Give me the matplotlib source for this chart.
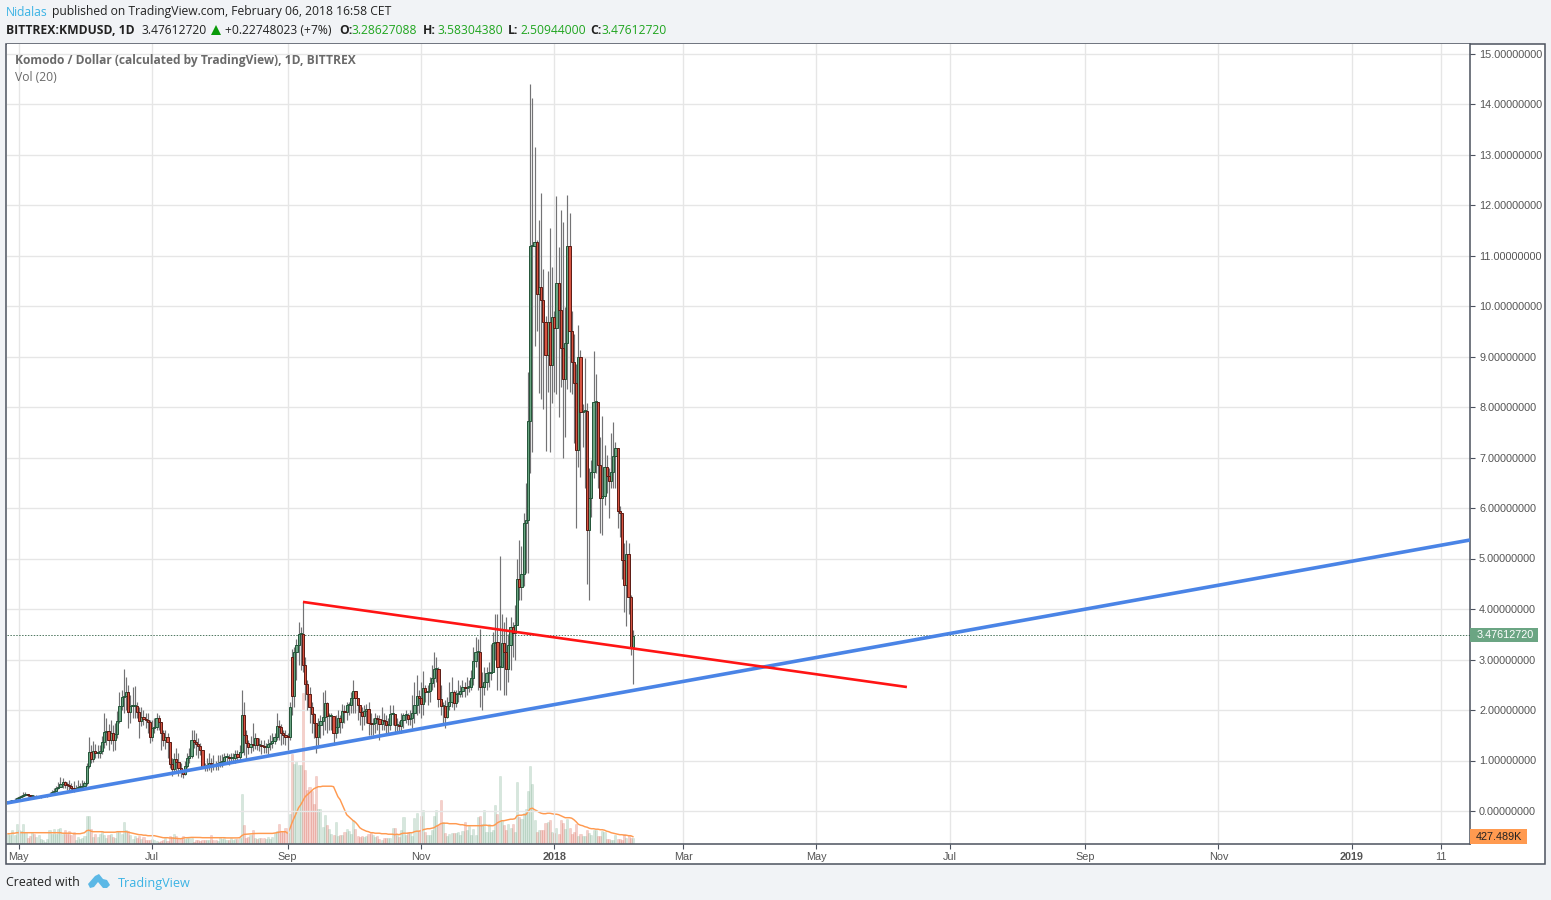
import numpy as np
import matplotlib
matplotlib.use("Agg")
import matplotlib.pyplot as plt
from matplotlib.patches import Rectangle, Polygon

W, H = 1551, 900
first_day = np.datetime64("2017-04-26")

# candles, one value a day from first_day on
closes = [
    .17, .19, .20, .22, .26, .27, .29, .31, .33, .31, .30, .30, .27, .28, .28, .29, .29, .29, .31, .33,
    .37, .40, .45, .47, .53, .57, .52, .51, .49, .45, .42, .46, .47, .47, .49, .55,
    .90, 1.17, 1.03, 1.18, 1.15, 1.15, 1.18, 1.37, 1.57, 1.58, 1.40, 1.54, 1.40, 1.52,
    1.79, 2.07, 2.25, 2.27, 2.36, 1.97, 2.07, 2.07, 2.07, 1.96, 1.78, 1.86, 1.83, 1.80, 1.76, 1.46, 1.64,
    1.67, 1.85, 1.77, 1.55, 1.41, 1.47, 1.36, .94, .83, 1.02, .98, .85, .81, .73, .89, 1.04, 1.09, 1.41,
    1.36, 1.33, 1.29, 1.21, .89, .88, .92, .96, .93, .92, .91, .96, .98, 1.00, 1.06, 1.07, 1.05, 1.05,
    1.05, 1.12, 1.06, 1.17, 1.90, 1.50, 1.34, 1.27, 1.32, 1.31, 1.45, 1.31, 1.31, 1.29, 1.26, 1.26, 1.32,
    1.34, 1.39, 1.47, 1.69, 1.66, 1.54, 1.50, 1.47, 1.46, 2.05,
    2.28, 3.15, 3.29, 3.50, 3.50, 2.89, 2.51, 2.31, 2.05, 1.93, 1.74, 1.46, 1.70, 1.79, 1.87, 2.14, 1.88,
    1.88, 1.88, 1.55, 1.67, 1.85, 1.77, 1.99, 1.97, 2.09, 2.09, 2.23, 2.38, 2.23, 2.10, 1.97, 1.88, 1.99,
    2.01, 1.75, 1.72, 1.75, 1.85, 1.83, 1.72, 1.80, 1.78, 1.70, 1.70, 1.92, 1.92, 1.70, 1.70, 1.68, 1.80,
    1.90, 1.91, 1.82, 1.85, 1.95, 2.10, 2.28, 2.24, 2.12, 2.43, 2.36, 2.38, 2.53, 2.63, 2.81, 2.81, 2.21,
    2.07, 2.07, 1.87, 2.07, 2.16, 2.36, 2.14, 2.31, 2.31, 2.38, 2.46, 2.43, 2.45, 2.46, 2.63, 2.97, 3.15,
    3.15, 2.46, 2.46, 2.56, 2.73, 2.74, 2.76, 3.32, 3.35, 2.85, 2.85, 3.32, 3.15, 2.81, 3.29, 3.64, 3.53,
    3.68, 4.59, 4.43, 4.70, 5.70, 5.76, 7.73, 11.19, 11.19, 11.27, 10.24, 10.38, 10.12, 9.69, 9.03, 9.69,
    8.83, 9.79, 9.56, 10.45, 9.93, 9.16, 8.55, 9.27, 11.19, 9.51, 8.90, 8.47, 7.15, 9.00, 7.91, 7.93, 7.93,
    5.57, 6.19, 6.72, 8.09, 8.10, 6.85, 6.19, 6.24, 6.82, 6.64, 6.54, 6.72, 7.02, 7.18, 5.95, 5.91, 4.97,
    4.48, 5.08, 4.23, 3.25, 3.47,
]
highs = [
    .19, .21, .22, .25, .28, .29, .31, .38, .38, .34, .32, .32, .31, .31, .30, .30, .30, .31, .33, .37,
    .42, .46, .50, .58, .68, .66, .60, .58, .62, .55, .60, .52, .62, .55, .62, .60,
    .95, 1.46, 1.30, 1.38, 1.32, 1.30, 1.30, 1.48, 1.95, 1.85, 1.72, 1.80, 1.70, 1.75,
    1.98, 2.35, 2.40, 2.82, 2.65, 2.50, 2.30, 2.45, 2.48, 2.15, 2.05, 2.05, 2.00, 1.95, 1.95, 1.80, 1.80,
    1.85, 1.95, 1.90, 1.70, 1.60, 1.60, 1.55, 1.10, 1.05, 1.15, 1.25, 1.15, .95, .80, 1.00, 1.15, 1.25, 1.60,
    1.60, 1.55, 1.45, 1.35, 1.10, .95, 1.05, 1.15, 1.05, 1.10, 1.00, 1.10, 1.10, 1.12, 1.15, 1.15, 1.12, 1.15,
    1.15, 1.20, 1.20, 1.30, 2.39, 2.15, 1.60, 1.40, 1.48, 1.75, 1.55, 1.45, 1.45, 1.40, 1.40, 1.35, 1.42,
    1.50, 1.55, 1.55, 1.95, 1.80, 1.72, 1.60, 1.60, 1.55, 2.15,
    3.20, 3.25, 3.40, 3.75, 3.65, 4.14, 3.05, 2.60, 2.45, 2.15, 1.95, 1.60, 1.85, 1.90, 2.35, 2.40, 2.15,
    1.95, 1.95, 1.80, 1.90, 2.00, 1.90, 2.12, 2.10, 2.15, 2.15, 2.35, 2.60, 2.30, 2.20, 2.10, 2.05, 2.10,
    2.12, 2.15, 1.95, 1.85, 1.95, 1.90, 1.90, 2.05, 1.95, 1.90, 1.85, 2.10, 2.10, 1.85, 1.85, 1.78, 1.95,
    1.95, 2.00, 1.95, 2.00, 2.30, 2.55, 2.70, 2.40, 2.55, 2.78, 2.50, 2.50, 2.65, 2.90, 3.15, 3.05, 2.85,
    2.50, 2.15, 2.20, 2.25, 2.55, 2.65, 2.40, 2.40, 2.60, 2.50, 2.60, 2.55, 2.65, 2.60, 2.80, 3.25, 3.45,
    3.40, 3.60, 2.75, 2.85, 2.85, 2.95, 3.30, 3.55, 3.90, 3.90, 5.04, 3.90, 3.75, 3.85, 3.50, 3.85, 3.75,
    4.08, 4.99, 5.37, 5.25, 5.90, 6.49, 8.70, 14.40, 14.11, 13.14, 11.30, 11.70, 12.23, 10.73, 9.80, 10.70,
    11.54, 10.77, 9.90, 12.18, 11.17, 11.91, 11.67, 9.99, 12.19, 11.85, 9.90, 9.45, 8.86, 9.62, 9.13, 8.05, 8.98,
    8.07, 6.80, 6.95, 9.10, 8.65, 7.90, 7.40, 7.82, 7.25, 7.05, 6.80, 7.48, 7.70, 7.30, 6.43, 6.03, 5.60,
    5.30, 5.37, 5.30, 4.28, 3.58,
]
lows = [
    .15, .17, .18, .20, .23, .25, .27, .28, .29, .27, .27, .27, .25, .25, .26, .26, .27, .27, .28, .30,
    .33, .37, .41, .44, .48, .45, .45, .42, .41, .38, .37, .40, .42, .42, .43, .47,
    .52, .85, .95, .98, 1.05, 1.05, 1.05, 1.13, 1.25, 1.30, 1.20, 1.32, 1.18, 1.20,
    1.45, 1.75, 2.00, 1.95, 2.00, 1.65, 1.75, 1.85, 1.85, 1.85, 1.45, 1.68, 1.70, 1.65, 1.55, 1.35, 1.38,
    1.55, 1.60, 1.60, 1.20, 1.28, 1.22, 1.05, .85, .70, .75, .80, .70, .68, .65, .72, .85, .95, 1.05,
    1.25, 1.10, 1.05, 1.10, .85, .80, .80, .82, .78, .82, .82, .82, .88, .88, .95, .98, .92, .95,
    .98, .95, .98, 1.00, 1.15, 1.10, 1.02, 1.12, 1.15, 1.18, 1.22, 1.20, 1.18, 1.12, 1.15, 1.15, 1.12,
    1.20, 1.25, 1.32, 1.40, 1.40, 1.30, 1.32, 1.30, 1.20, 1.40,
    1.90, 2.05, 2.60, 2.90, 2.80, 2.75, 2.20, 2.00, 1.75, 1.55, 1.45, 1.15, 1.30, 1.45, 1.50, 1.60, 1.55,
    1.60, 1.60, 1.30, 1.45, 1.55, 1.55, 1.65, 1.75, 1.80, 1.90, 1.95, 1.95, 1.95, 1.80, 1.70, 1.60, 1.70,
    1.75, 1.50, 1.50, 1.50, 1.55, 1.60, 1.40, 1.60, 1.60, 1.50, 1.55, 1.60, 1.70, 1.55, 1.55, 1.55, 1.55,
    1.65, 1.75, 1.70, 1.70, 1.65, 1.75, 1.90, 1.95, 1.85, 1.90, 2.15, 2.10, 2.15, 2.40, 2.45, 2.55, 2.05,
    1.90, 1.70, 1.65, 1.85, 2.00, 2.05, 2.00, 2.05, 2.15, 2.25, 2.25, 2.25, 2.30, 2.35, 2.40, 2.50, 2.85,
    2.40, 2.05, 2.00, 2.30, 2.40, 2.45, 2.60, 2.80, 3.00, 2.40, 2.40, 2.85, 2.30, 2.30, 2.55, 2.80, 3.05,
    3.00, 3.68, 4.18, 4.18, 4.45, 4.72, 4.72, 6.70, 7.10, 9.20, 9.50, 8.27, 8.15, 7.97, 7.12, 8.30,
    7.10, 8.07, 8.30, 8.25, 7.80, 8.40, 7.00, 7.40, 8.35, 8.30, 8.25, 7.28, 5.60, 6.82, 6.62, 7.20, 6.40,
    4.50, 4.18, 5.83, 6.60, 6.70, 6.40, 5.51, 5.46, 6.05, 6.30, 5.80, 6.40, 6.40, 6.40, 5.60, 5.42, 4.60,
    3.95, 3.66, 3.90, 3.09, 2.51,
]
# volume, in units of about 71K (the scale itself is hidden in the picture)
volumes = [
    9, 8, 13, 8, 19, 13, 12, 19, 11, 5, 7, 11, 9, 6, 8, 4, 3, 1, 4, 13, 9, 14, 9, 14, 15, 9, 13, 9, 12, 8, 11, 3, 6, 4, 5, 7,
    27, 27, 14, 6, 9, 6, 9, 12, 8, 5, 8, 9, 6, 5, 11, 12, 9, 21, 13, 12, 8, 4, 7, 5, 7, 4, 6, 3, 3, 3, 4,
    3, 2, 1, 2, 3, 5, 2, 7, 6, 9, 7, 4, 5, 7, 4, 5, 5, 5, 1, 3, 3, 2, 3, 3, 3, 3, 8, 3, 3, 2, 6, 4, 5, 3, 3, 5, 3, 4, 4, 5,
    49, 18, 5, 6, 8, 13, 5, 4, 5, 5, 5, 4, 6, 4, 6, 10, 12, 19, 11, 12, 15, 10, 29,
    89, 79, 82, 78, 78, 150, 73, 53, 56, 52, 39, 67,
    34, 34, 16, 28, 18, 14, 9, 8, 21, 7, 8, 8, 11, 14, 12, 9, 23, 14, 7, 6,
    7, 6, 7, 9, 10, 8, 6, 7, 4, 3, 5, 5, 5, 5, 15, 15, 8, 6, 13, 26,
    8, 11, 11, 7, 25, 30, 12, 27, 33, 11, 8, 8, 13, 27, 33, 18, 43, 21, 10, 7,
    9, 10, 10, 10, 11, 8, 12, 21, 13, 17, 8, 14, 8, 26, 27, 19, 33, 11, 19, 11,
    13, 38, 29, 67, 23, 18, 13, 19, 15, 19, 11, 61,
    26, 24, 30, 34, 52, 77, 59, 23, 11, 13, 13, 13, 20, 21, 23, 11, 10, 15, 9, 23,
    20, 14, 24, 15, 9, 11, 19, 7, 9, 7, 7, 13, 10, 8, 13, 13, 7, 7, 12, 11,
    4, 4, 3, 3, 8, 4, 4, 3, 9, 5, 8, 5, 5,
]
vol_ma = [
    9, 9, 9.5, 9.5, 10, 10, 10, 10, 10, 10, 10, 10, 10, 10, 10, 10, 10, 10, 10, 10, 10, 10,
    10, 10, 10, 9.5, 9.5, 9.5, 9.5, 9.5, 9, 9, 9, 9, 9.5, 10,
    12, 12.5, 11.5, 11, 11, 11, 11, 11, 10.5, 10.5, 10.5, 10.5, 10.5, 10.5, 11, 11, 11, 11, 11, 10.5,
    10, 9.5, 9, 8.5, 8, 8, 7.5, 7.5, 7, 7, 7, 7, 6.5, 6, 5.5, 5, 5, 5, 4.7, 4.7,
    4.5, 4.2, 4, 4, 4.5, 5, 5, 5.2, 5.3, 5.3, 5.3, 5.2, 5.2, 5, 5, 5, 5, 5, 5, 5, 5, 5, 5, 5, 4.8, 4.8, 4.7, 4.7, 4.8, 4.8, 5,
    7, 8.3, 8.5, 8.7, 8.8, 9, 9.2, 9.3, 9.3, 9.3, 9.3, 9.3, 9.3, 9.3, 9.3, 9.6, 10, 10.5, 11, 11, 11,
    9.3, 14, 20, 25, 30, 35, 38, 42, 46, 48, 50, 52, 54, 55, 56, 56, 56.5, 56.5, 56.5, 56.5, 56.5, 56,
    51, 46, 43, 38, 33, 28, 26, 24, 22, 20.5, 18, 15, 13.5, 12.5, 11.5, 11, 10, 10, 9.5, 9.5, 9.5, 9, 9, 9,
    8.5, 8.5, 8.5, 8, 8.5, 8, 9, 9.5, 9.5, 9.5, 10, 10, 11, 11.5, 11.5, 12, 13, 13.5, 14, 14, 14.5, 15, 16.5, 17.5,
    19, 19.5, 19.5, 19.5, 19, 19, 19, 19, 18.5, 18, 18, 17.5, 17, 17, 17, 17, 17, 17, 17, 17, 17.5, 17.5, 17, 17, 17,
    18, 20, 21, 22, 22, 22.5, 23, 23.5, 23.5, 24, 27, 27.5, 27.5, 28, 28, 31, 34, 34.5, 33, 32, 30.5, 29.5, 29, 29,
    29.5, 29.5, 29, 28.5, 28.5, 28, 27, 26, 25, 25, 25, 24.5, 23, 21, 18.5, 17.5, 17, 16, 15.5, 14.5, 14, 14, 13.5,
    13.5, 13, 13, 12.5, 11.5, 11, 10, 9.5, 9, 8.5, 8, 8, 7.5, 7.5, 7, 7, 6,
]

price_ticks = list(range(0, 16))
date_ticks = ["2017-05-01", "2017-07-01", "2017-09-01", "2017-11-01", "2018-01-01", "2018-03-01",
              "2018-05-01", "2018-07-01", "2018-09-01", "2018-11-01", "2019-01-01", "2019-02-11"]
date_labels = ["May", "Jul", "Sep", "Nov", "2018", "Mar", "May", "Jul", "Sep", "Nov", "2019", "11"]

# hand drawn trend lines: day number, price
red_line_x, red_line_y = [135.0, 411.4], [4.14, 2.455]
blue_line_x, blue_line_y = [-0.6, 669.1], [0.158, 5.366]
last_price = 3.47612720
last_vol_ma_k = 427.489
vol_unit_k = 71.0

GREEN, GREEN_EDGE = "#6ba583", "#225437"
RED, RED_EDGE = "#d75442", "#5b1a13"
WICK = "#737375"
FRAME = "#4c525e"
TEXT = "#555555"
BLUE_LINK = "#3bb3e4"
VALUE_GREEN = "#1fa51f"

plt.rcParams["font.family"] = ["Liberation Sans", "DejaVu Sans"]
HEAD_FONT = ["Open Sans", "DejaVu Sans"]

closes = np.array(closes)
opens = np.r_[closes[0], closes[:-1]]
opens[130] = 3.04  # gap up on this day
days = np.arange(len(closes))
up = closes >= opens

fig = plt.figure(figsize=(W / 100, H / 100), dpi=100, facecolor="#f1f3f6")

# page layer in pixels, for the frame and the header and footer texts
page = fig.add_axes([0, 0, 1, 1], zorder=0)
page.set_xlim(0, W)
page.set_ylim(H, 0)
page.axis("off")
page.add_patch(Rectangle((5.5, 43.5), 1539, 820, fc="white", ec=FRAME, lw=1.1))


def left_text(x, y, s, color="#222222", weight="normal", size=8.7):
    page.text(x, y, s, color=color, fontweight=weight, fontsize=size, family=HEAD_FONT, va="center", ha="left")


left_text(6, 12, "Nidalas", BLUE_LINK)
left_text(52, 12, "published on TradingView.com, February 06, 2018 16:58 CET")
left_text(6, 30, "BITTREX:KMDUSD, 1D", weight="bold")
left_text(141, 30, "3.47612720")
page.add_patch(Polygon([[211, 35], [221, 35], [216, 25]], fc="#0a9a0a", ec="none"))
left_text(225, 30, "+0.22748023 (+7%)")
for x, lab, xv, val in [(339, "O:", 352, "3.28627088"), (423, "H:", 437, "3.58304380"),
                        (508, "L:", 520, "2.50944000"), (590, "C:", 602, "3.47612720")]:
    left_text(x, 30, lab, weight="bold")
    left_text(xv, 30, val, VALUE_GREEN)

left_text(6, 883, "Created with", size=8.9)
left_text(118, 883, "TradingView", BLUE_LINK, size=9.1)
page.add_patch(Polygon([[88, 884], [95, 876], [99, 874], [103, 879], [107, 880], [110, 885], [107, 888],
                        [103, 888], [98, 882], [94, 887], [90, 888]], fc="#5cb8e6", ec="none"))

ax_l, ax_r, ax_t, ax_b = 6.5, 1470.0, 44.0, 844.0
rect = [ax_l / W, 1 - ax_b / H, (ax_r - ax_l) / W, (ax_b - ax_t) / H]

vol_ax = fig.add_axes(rect, zorder=1)
ax = fig.add_axes(rect, zorder=2)
ax.patch.set_visible(False)

to_px = 2.185
xlim = ((ax_l - 8) / to_px, (ax_r - 8) / to_px)

vol_ax.set_xlim(xlim)
vol_ax.set_ylim(-1.3, 798.7)
vol_ax.set_yticks([])
vol_ax.set_xticks([])
for sp in vol_ax.spines.values():
    sp.set_visible(False)
vol_colors = np.where(up, GREEN, RED)
vol_ax.bar(days, volumes, width=0.95, color=vol_colors, alpha=0.27, edgecolor=vol_colors, linewidth=0.4)
vol_ax.plot(days, vol_ma, color="#ff9a50", lw=1.05)

ax.set_xlim(xlim)
ax.set_ylim((811 - ax_b) / 50.5, (811 - ax_t) / 50.5)
tick_days = [(np.datetime64(d) - first_day) / np.timedelta64(1, "D") for d in date_ticks]
ax.set_xticks(tick_days)
ax.set_xticklabels(date_labels)
for lab in ax.get_xticklabels():
    if lab.get_text() in ("2018", "2019"):
        lab.set_fontweight("bold")
ax.yaxis.tick_right()
ax.set_yticks(price_ticks)
ax.set_yticklabels([f"{p:.8f}" for p in price_ticks])
ax.tick_params(axis="both", labelsize=7.8, labelcolor=TEXT, color=FRAME, length=3.5, width=0.8, pad=3)
ax.tick_params(axis="x", pad=2)
ax.grid(True, color="#e6e6e6", lw=1.0)
ax.set_axisbelow(True)
for name, sp in ax.spines.items():
    sp.set_visible(name in ("right", "bottom"))
    sp.set_color(FRAME)
    sp.set_linewidth(1.1)

ax.vlines(days, lows, highs, color=WICK, lw=0.85, zorder=3)
bottoms = np.minimum(opens, closes)
heights = np.maximum(np.abs(closes - opens), 0.02)
ax.bar(days[up], heights[up], bottom=bottoms[up], width=1.0, color=GREEN, edgecolor=GREEN_EDGE, lw=0.7, zorder=4)
ax.bar(days[~up], heights[~up], bottom=bottoms[~up], width=1.0, color=RED, edgecolor=RED_EDGE, lw=0.7, zorder=4)

ax.axhline(last_price, color=GREEN_EDGE, lw=0.7, ls=(0, (1.5, 1.5)), alpha=0.8, zorder=3)
ax.plot(blue_line_x, blue_line_y, color="#4a84e6", lw=2.6, zorder=5, solid_capstyle="butt")
ax.plot(red_line_x, red_line_y, color="#ff1414", lw=1.9, zorder=6, solid_capstyle="butt")

# value tags on the price scale
tag_y = 811 - last_price * 50.5
page_tag = fig.add_axes([0, 0, 1, 1], zorder=3)
page_tag.set_xlim(0, W)
page_tag.set_ylim(H, 0)
page_tag.axis("off")
page_tag.add_patch(Rectangle((1470, tag_y - 7), 68, 14, fc=GREEN, ec="none"))
page_tag.text(1505, tag_y, f"{last_price:.8f}", color="white", fontsize=7.8, ha="center", va="center")
vol_y = 842.7 - last_vol_ma_k / vol_unit_k
page_tag.add_patch(Rectangle((1470, vol_y - 7.5), 57, 14.5, fc="#ff9a50", ec="none"))
page_tag.text(1499, vol_y, f"{last_vol_ma_k:.3f}K", color="#222222", fontsize=7.8, ha="center", va="center")

page_tag.text(15, 60.5, "Komodo / Dollar (calculated by TradingView), 1D, BITTREX", color="#6a6a6a",
              fontweight="bold", fontsize=8.65, family=HEAD_FONT, va="center")
page_tag.text(15, 77.5, "Vol (20)", color="#6a6a6a", fontsize=8.7, family=HEAD_FONT, va="center")

fig.savefig("out.png", dpi=100, facecolor=fig.get_facecolor())
